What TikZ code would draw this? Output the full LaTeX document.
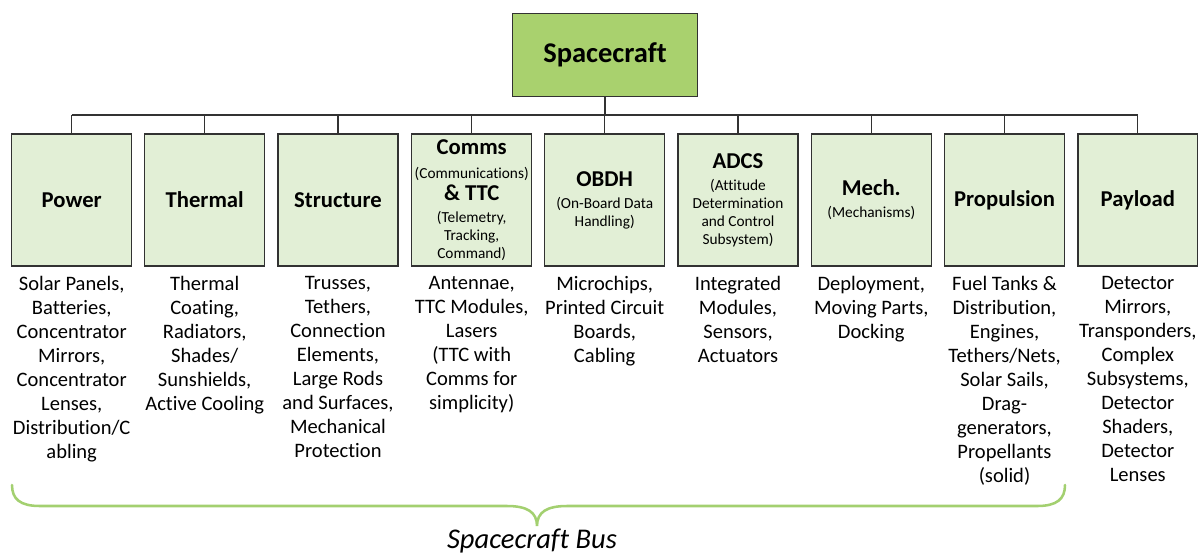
\documentclass[tikz,border=0pt]{standalone}
\usepackage{fontspec}
\setmainfont[Ligatures=NoCommon]{Carlito}
\usepackage{tikz}

\definecolor{topgreen}{RGB}{169,209,110}
\definecolor{subgreen}{RGB}{226,239,214}
\definecolor{bracegreen}{RGB}{163,208,112}
\definecolor{boxline}{RGB}{50,50,50}

\newcommand{\subnote}[1]{{\mdseries\fontsize{11.5}{13.5}\selectfont #1}}

\begin{document}
\begin{tikzpicture}[x=0.75pt, y=-0.75pt,
    top/.style={draw=boxline, line width=1.1pt, fill=topgreen, minimum width=138.5pt, minimum height=62.5pt, font=\bfseries\fontsize{21.4}{26}\selectfont},
    sub/.style={draw=boxline, line width=1.1pt, fill=subgreen, minimum width=90pt, minimum height=99pt, inner sep=0pt, align=center, font=\bfseries\fontsize{17}{13.5}\selectfont},
    items/.style={anchor=north, inner sep=0pt, align=center, font=\fontsize{15.4}{18}\selectfont},
    link/.style={draw=boxline, line width=0.9pt},
    brace/.style={draw=bracegreen, line width=1.9pt, line cap=round}]

    %% Background
    \useasboundingbox (0,0) rectangle (1198,554);

    % Spacecraft
    \node[top] (sc) at (605,55) {Spacecraft};

    % Subsystems
    \node[sub] (pow) at (71.7,200) {Power};
    \node[sub] (the) at (204.7,200) {Thermal};
    \node[sub] (str) at (338,200) {Structure};
    \node[sub] (com) at (471.7,200) {Comms\\[4pt]\subnote{(Communications)}\\[3pt]\& TTC\\[3pt]\subnote{(Telemetry,}\\\subnote{Tracking,}\\\subnote{Command)}};
    \node[sub] (obd) at (604.7,200) {OBDH\\[3pt]\subnote{(On-Board Data}\\\subnote{Handling)}};
    \node[sub] (adc) at (738,200) {ADCS\\[3pt]\subnote{(Attitude}\\\subnote{Determination}\\\subnote{and Control}\\\subnote{Subsystem)}};
    \node[sub] (mec) at (871.3,200) {Mech.\\[3pt]\subnote{(Mechanisms)}};
    \node[sub] (pro) at (1004.5,200) {Propulsion};
    \node[sub] (pay) at (1137.8,200) {Payload};

    % Tree lines
    \coordinate (hub) at (605,115);
    \draw[link] (sc.south) -- (hub);
    \draw[link] (pow.north |- hub) -- (pay.north |- hub);
    \foreach \n in {pow,the,str,com,obd,adc,mec,pro,pay}
    {
    \draw[link] (\n.north) -- (\n.north |- hub);
    }

    % Components
    \node[items] (powtxt) at (71.7,276) {Solar Panels,\\Batteries,\\Concentrator\\Mirrors,\\Concentrator\\Lenses,\\Distribution/C\\abling};
    \node[items] (thetxt) at (204.7,276) {Thermal\\Coating,\\Radiators,\\Shades/\\Sunshields,\\Active Cooling};
    \node[items] (strtxt) at (338,276) {Trusses,\\Tethers,\\Connection\\Elements,\\Large Rods\\and Surfaces,\\Mechanical\\Protection};
    \node[items] (comtxt) at (471.7,276) {Antennae,\\TTC Modules,\\Lasers\\(TTC with\\Comms for\\simplicity)};
    \node[items] (obdtxt) at (604.7,276) {Microchips,\\Printed Circuit\\Boards,\\Cabling};
    \node[items] (adctxt) at (738,276) {Integrated\\Modules,\\Sensors,\\Actuators};
    \node[items] (mectxt) at (871.3,276) {Deployment,\\Moving Parts,\\Docking};
    \node[items] (protxt) at (1004.5,276) {Fuel Tanks \&\\Distribution,\\Engines,\\Tethers/Nets,\\Solar Sails,\\Drag-\\generators,\\Propellants\\(solid)};
    \node[items] (paytxt) at (1137.8,276) {Detector\\Mirrors,\\Transponders,\\Complex\\Subsystems,\\Detector\\Shaders,\\Detector\\Lenses};

    % Bus brace
    \draw[brace] (12,485) .. controls (12,499) and (20,506) .. (40,506)
        -- (507,506) .. controls (527,506) and (537,512) .. (537,526)
        .. controls (537,512) and (547,506) .. (567,506)
        -- (1037,506) .. controls (1057,506) and (1065,499) .. (1065,485);
    \node[font=\itshape\fontsize{21.4}{26}\selectfont] (bus) at (532,541) {Spacecraft Bus};

\end{tikzpicture}
\end{document}
